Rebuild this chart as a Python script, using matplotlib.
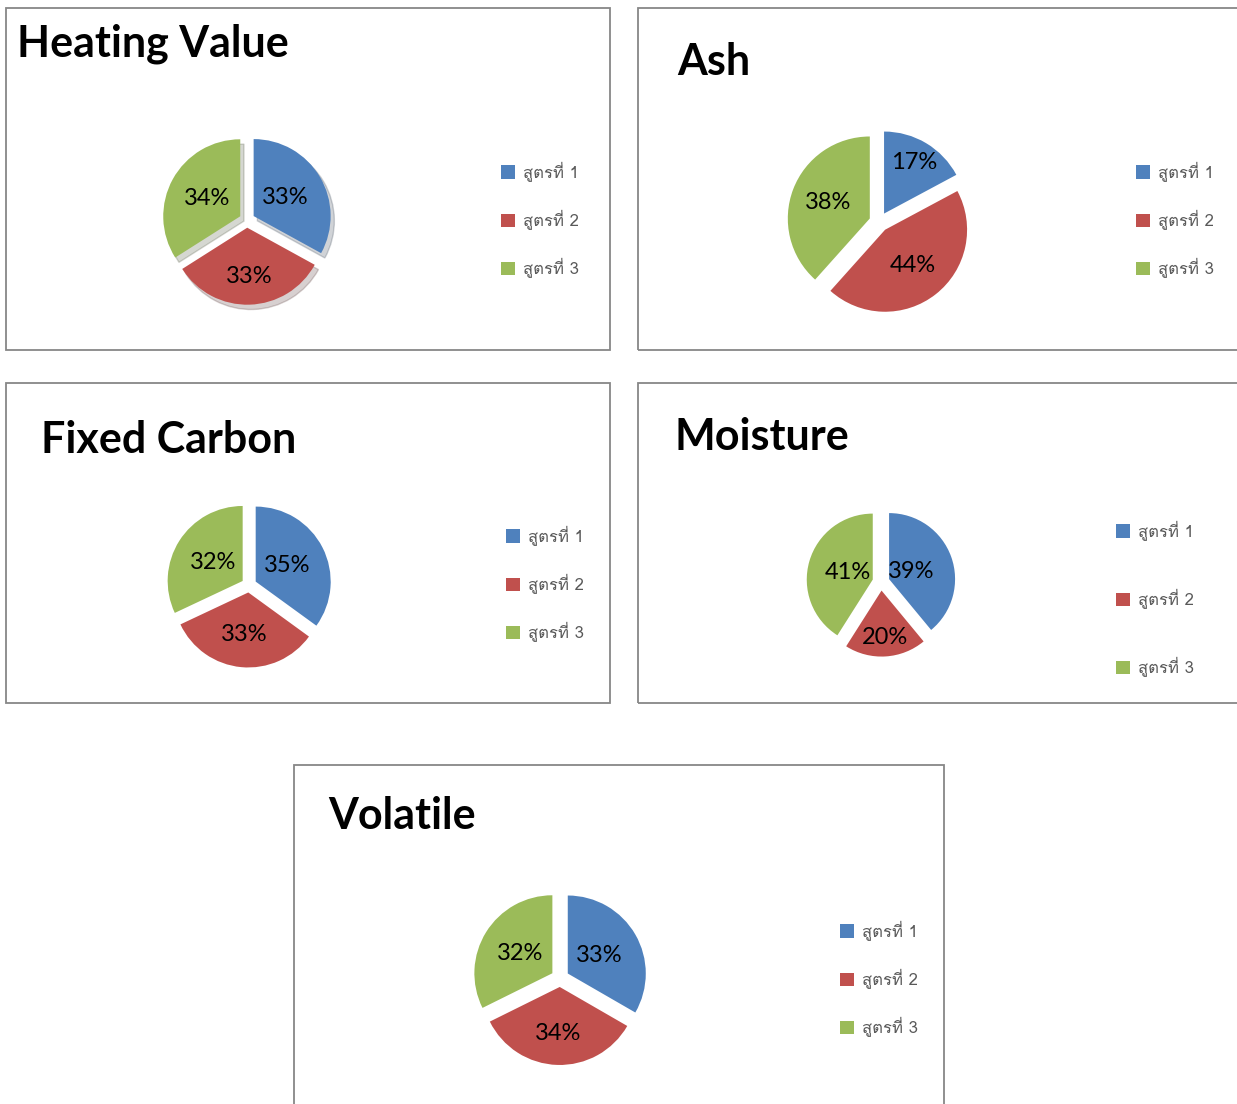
import matplotlib
matplotlib.use('agg')
import numpy as np
import matplotlib.pyplot as plt
from matplotlib import font_manager
from matplotlib.ft2font import FT2Font
from matplotlib.patches import Rectangle

W, H = 1237, 1104

titles = ['Heating Value', 'Ash', 'Fixed Carbon', 'Moisture', 'Volatile']
labels = ['สูตรที่ 1', 'สูตรที่ 2', 'สูตรที่ 3']
heating = [33, 33, 34]
ash = [17, 44, 38]
fixed_carbon = [35, 33, 32]
moisture = [39, 20, 41]
volatile = [33, 34, 32]
colors = ['#4F81BD', '#C0504D', '#9BBB59']


def find_thai_font():
    # first installed font that has Thai glyphs
    for f in font_manager.fontManager.ttflist:
        try:
            if 0x0E2A in FT2Font(f.fname).get_charmap():
                return f.name
        except Exception:
            pass
    return 'DejaVu Sans'


def fx(px):
    return px / W


def fy(py):
    return 1 - py / H


thai = find_thai_font()
fig = plt.figure(figsize=(W / 100, H / 100), dpi=100)

# panel layout in pixels: box, title baseline, pie centre/radius/explode,
# label distances, legend pos/spacing
panels = [
    dict(values=heating, box=(6, 8, 604, 342), title=(17, 57), pie=(247, 220, 77, 0.10),
         dist=(0.47, 0.63, 0.49), leg=(501, 220), spacing=1.69, shadow=True),
    dict(values=ash, box=(638, 8, 620, 342), title=(677, 75), pie=(879, 222, 82, 0.12),
         dist=(0.72, 0.55, 0.54), leg=(1136, 220), spacing=1.69, shadow=False),
    dict(values=fixed_carbon, box=(6, 383, 604, 320), title=(41, 453), pie=(249, 585, 75, 0.10),
         dist=(0.47, 0.56, 0.47), leg=(506, 584), spacing=1.69, shadow=False),
    dict(values=moisture, box=(638, 383, 620, 320), title=(675, 450), pie=(881, 582, 66, 0.13),
         dist=(0.35, 0.72, 0.40), leg=(1116, 599), spacing=2.89, shadow=False),
    dict(values=volatile, box=(294, 765, 650, 360), title=(328, 829), pie=(560, 978, 78, 0.115),
         dist=(0.46, 0.60, 0.49), leg=(840, 979), spacing=1.69, shadow=False),
]

for title, p in zip(titles, panels):
    bx, by, bw, bh = p['box']
    fig.add_artist(Rectangle((fx(bx), fy(by + bh)), bw / W, bh / H, transform=fig.transFigure,
                             fill=False, edgecolor='#878787', linewidth=1.3))
    fig.text(fx(p['title'][0]), fy(p['title'][1]), title, fontsize=31, fontweight='bold',
             family='Lato', va='baseline', ha='left')

    cx, cy, r, ex = p['pie']
    size = 2.6 * r
    ax = fig.add_axes([fx(cx - size / 2), fy(cy + size / 2), size / W, size / H])
    shadow = {'ox': 0.035, 'oy': -0.045, 'alpha': 0.2} if p['shadow'] else False
    wedges, _, pcts = ax.pie(p['values'], colors=colors, startangle=90, counterclock=False,
                             explode=[ex] * 3, autopct='%.0f%%', pctdistance=0.55,
                             shadow=shadow, textprops=dict(fontsize=17, family='Lato'))
    # move each percentage label to its own radial distance
    for w, t, d in zip(wedges, pcts, p['dist']):
        th = np.deg2rad((w.theta1 + w.theta2) / 2)
        t.set_position((w.center[0] + d * np.cos(th), w.center[1] + d * np.sin(th)))
    ax.set_xlim(-1.3, 1.3)
    ax.set_ylim(-1.3, 1.3)
    ax.set_aspect('equal')
    ax.axis('off')

    ax.legend(wedges, labels, loc='center left', bbox_to_anchor=(fx(p['leg'][0]), fy(p['leg'][1])),
              bbox_transform=fig.transFigure, frameon=False, borderpad=0, borderaxespad=0,
              handlelength=0.85, handleheight=0.85, handletextpad=0.45, labelspacing=p['spacing'],
              labelcolor='#595959', prop=dict(family=[thai, 'DejaVu Sans'], size=12))

fig.savefig('out.png', dpi=100)
